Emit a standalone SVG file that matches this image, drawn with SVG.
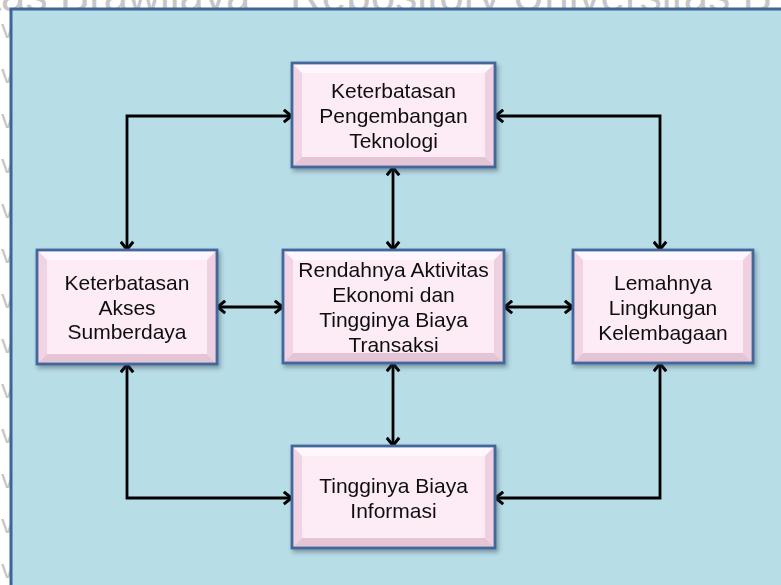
<svg xmlns="http://www.w3.org/2000/svg" width="781" height="585" viewBox="0 0 781 585">
  <style>
    .wm { font-family: "Liberation Sans", Arial, sans-serif; font-size: 44px; fill: #c6c6c6; }
    .wv { font-family: "Liberation Sans", Arial, sans-serif; font-size: 26px; fill: #c6c6c6; }
    .lbl { font-family: "Liberation Sans", Arial, sans-serif; font-size: 21px; fill: #111; text-anchor: middle; }
    .frame { fill: none; stroke: #43689b; stroke-width: 2.8; }
    .face { fill: #fdebf5; }
    .bt { fill: #fff7fb; }
    .bl { fill: #f1d3e4; }
    .br { fill: #eed0e0; }
    .bb { fill: #e5c4d6; }
    .link { fill: none; stroke: #000; stroke-width: 2.8; marker-start: url(#chev); marker-end: url(#chev); }
  </style>
  <defs>
    <marker id="chev" viewBox="0 0 11 15" refX="10" refY="7.5" markerWidth="11" markerHeight="15" markerUnits="userSpaceOnUse" orient="auto-start-reverse">
      <path d="M1.8,1.3 L9.5,7.5 L1.8,13.7" fill="none" stroke="#000" stroke-width="3" stroke-linejoin="miter"/>
    </marker>
    <filter id="shadow" x="-10%" y="-10%" width="125%" height="130%">
      <feDropShadow dx="2" dy="3" stdDeviation="2" flood-color="#304050" flood-opacity="0.45"/>
    </filter>
  </defs>

  <!-- page background with faint watermark text -->
  <rect x="0" y="0" width="781" height="585" fill="#ffffff"/>
  <g id="watermark">
    <text class="wm" x="-104" y="11">versitas Brawijaya</text>
    <text class="wm" x="290" y="11">Repository Universitas B</text>
    <text class="wv" x="1" y="38">v</text>
    <text class="wv" x="1" y="83">v</text>
    <text class="wv" x="1" y="128">v</text>
    <text class="wv" x="1" y="173">v</text>
    <text class="wv" x="1" y="218">v</text>
    <text class="wv" x="1" y="263">v</text>
    <text class="wv" x="1" y="308">v</text>
    <text class="wv" x="1" y="353">v</text>
    <text class="wv" x="1" y="398">v</text>
    <text class="wv" x="1" y="443">v</text>
    <text class="wv" x="1" y="488">v</text>
    <text class="wv" x="1" y="533">v</text>
    <text class="wv" x="1" y="578">v</text>
  </g>

  <!-- light blue panel -->
  <rect x="11" y="9" width="800" height="600" fill="#b7dde7" stroke="#3d6597" stroke-width="3"/>

  <!-- connectors -->
  <g id="connectors">
    <path class="link" d="M127,250 V116 H292"/>
    <path class="link" d="M495,116 H660 V250"/>
    <path class="link" d="M393,167 V250"/>
    <path class="link" d="M217,307 H283"/>
    <path class="link" d="M504,307 H573"/>
    <path class="link" d="M393,363 V446"/>
    <path class="link" d="M127,364 V498 H292"/>
    <path class="link" d="M660,363 V498 H495"/>
  </g>

  <!-- top node -->
  <g id="node-teknologi" filter="url(#shadow)">
    <rect class="face" x="292" y="63" width="203" height="104"/>
    <polygon class="bt" points="292,63 495,63 485,73 302,73"/>
    <polygon class="bl" points="292,63 302,73 302,157 292,167"/>
    <polygon class="br" points="495,63 495,167 485,157 485,73"/>
    <polygon class="bb" points="292,167 302,157 485,157 495,167"/>
    <rect class="frame" x="292" y="63" width="203" height="104"/>
    <text class="lbl" x="393.5" y="98">Keterbatasan</text>
    <text class="lbl" x="393.5" y="123">Pengembangan</text>
    <text class="lbl" x="393.5" y="148">Teknologi</text>
  </g>

  <!-- left node -->
  <g id="node-akses" filter="url(#shadow)">
    <rect class="face" x="37" y="250" width="180" height="114"/>
    <polygon class="bt" points="37,250 217,250 207,260 47,260"/>
    <polygon class="bl" points="37,250 47,260 47,354 37,364"/>
    <polygon class="br" points="217,250 217,364 207,354 207,260"/>
    <polygon class="bb" points="37,364 47,354 207,354 217,364"/>
    <rect class="frame" x="37" y="250" width="180" height="114"/>
    <text class="lbl" x="127" y="290">Keterbatasan</text>
    <text class="lbl" x="127" y="315">Akses</text>
    <text class="lbl" x="127" y="339">Sumberdaya</text>
  </g>

  <!-- center node -->
  <g id="node-ekonomi" filter="url(#shadow)">
    <rect class="face" x="283" y="250" width="221" height="113"/>
    <polygon class="bt" points="283,250 504,250 494,260 293,260"/>
    <polygon class="bl" points="283,250 293,260 293,353 283,363"/>
    <polygon class="br" points="504,250 504,363 494,353 494,260"/>
    <polygon class="bb" points="283,363 293,353 494,353 504,363"/>
    <rect class="frame" x="283" y="250" width="221" height="113"/>
    <text class="lbl" x="393.5" y="277">Rendahnya Aktivitas</text>
    <text class="lbl" x="393.5" y="302">Ekonomi dan</text>
    <text class="lbl" x="393.5" y="327">Tingginya Biaya</text>
    <text class="lbl" x="393.5" y="352">Transaksi</text>
  </g>

  <!-- right node -->
  <g id="node-kelembagaan" filter="url(#shadow)">
    <rect class="face" x="573" y="250" width="180" height="113"/>
    <polygon class="bt" points="573,250 753,250 743,260 583,260"/>
    <polygon class="bl" points="573,250 583,260 583,353 573,363"/>
    <polygon class="br" points="753,250 753,363 743,353 743,260"/>
    <polygon class="bb" points="573,363 583,353 743,353 753,363"/>
    <rect class="frame" x="573" y="250" width="180" height="113"/>
    <text class="lbl" x="663" y="290">Lemahnya</text>
    <text class="lbl" x="663" y="315">Lingkungan</text>
    <text class="lbl" x="663" y="340">Kelembagaan</text>
  </g>

  <!-- bottom node -->
  <g id="node-informasi" filter="url(#shadow)">
    <rect class="face" x="292" y="446" width="203" height="102"/>
    <polygon class="bt" points="292,446 495,446 485,456 302,456"/>
    <polygon class="bl" points="292,446 302,456 302,538 292,548"/>
    <polygon class="br" points="495,446 495,548 485,538 485,456"/>
    <polygon class="bb" points="292,548 302,538 485,538 495,548"/>
    <rect class="frame" x="292" y="446" width="203" height="102"/>
    <text class="lbl" x="393.5" y="493">Tingginya Biaya</text>
    <text class="lbl" x="393.5" y="518">Informasi</text>
  </g>
</svg>
